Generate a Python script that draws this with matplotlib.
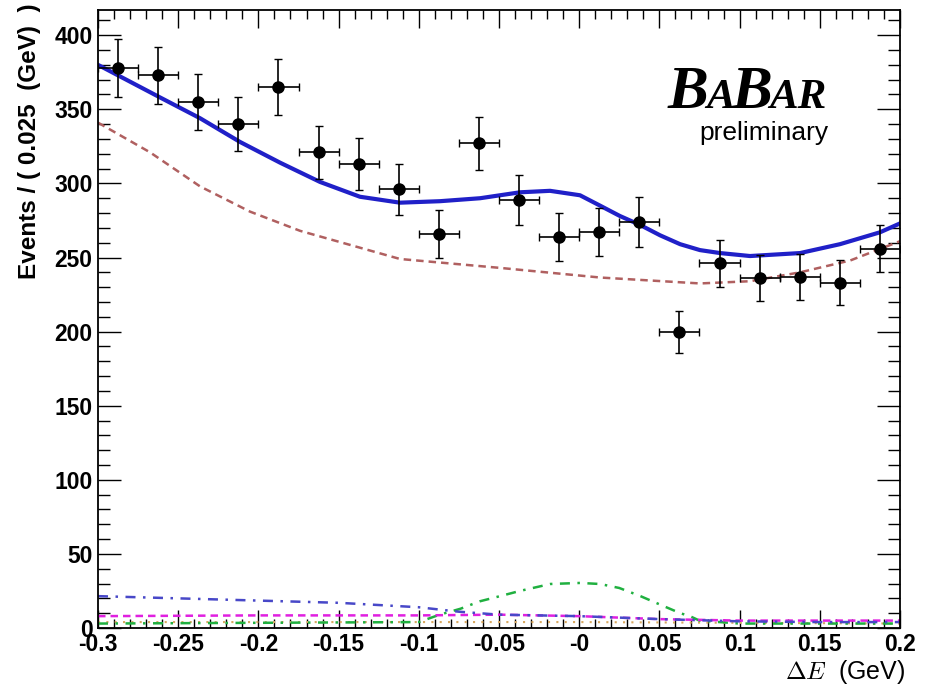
import numpy as np
import matplotlib
matplotlib.use("Agg")
import matplotlib.pyplot as plt
from matplotlib.ticker import MultipleLocator

# data points (bin centres, bin width 0.025 GeV)
x_data = [-0.2875, -0.2625, -0.2375, -0.2125, -0.1875, -0.1625, -0.1375, -0.1125, -0.0875, -0.0625,
          -0.0375, -0.0125, 0.0125, 0.0375, 0.0625, 0.0875, 0.1125, 0.1375, 0.1625, 0.1875]
y_data = [378, 373, 355, 340, 365, 321, 313, 296, 266, 327,
          289, 264, 267, 274, 200, 246, 236, 237, 233, 256]
y_err = [19.4, 19.3, 18.8, 18.4, 19.1, 17.9, 17.7, 17.2, 16.3, 18.1,
         17.0, 16.2, 16.3, 16.6, 14.1, 15.7, 15.4, 15.4, 15.3, 16.0]
x_err = 0.0125

# total fit
x_tot = [-0.3, -0.2613, -0.2364, -0.2115, -0.1865, -0.1616, -0.1367, -0.1117, -0.0868, -0.0618,
         -0.0369, -0.0182, 0.0005, 0.013, 0.0254, 0.0379, 0.0504, 0.0629, 0.0753, 0.0878,
         0.1065, 0.1377, 0.1626, 0.1875, 0.2]
y_tot = [380, 358, 344, 328, 314, 301, 291, 287, 288, 290,
         294, 295, 292, 285, 278, 272, 265, 259, 255, 253,
         251, 253, 259, 267, 273]

# continuum background
x_bkg = [-0.3, -0.2676, -0.2364, -0.2053, -0.174, -0.1117, -0.0494, 0.013, 0.0753, 0.1065, 0.1377, 0.169, 0.2]
y_bkg = [341, 321, 298, 281, 268, 249, 243, 236.5, 232.5, 234, 240, 248, 261]

# small components
x_bb = [-0.3, -0.25, -0.2, -0.15, -0.1, -0.075, -0.05, 0.0, 0.05, 0.1, 0.15, 0.2]
y_bb = [21.5, 20, 18.5, 17, 14, 11, 9, 8, 6, 4.5, 4, 4]
x_mag = [-0.3, -0.2, -0.1, -0.05, 0.0, 0.05, 0.1, 0.2]
y_mag = [8, 8.5, 8.5, 9, 8, 6, 5, 5]
x_sig = [-0.3, -0.1, -0.087, -0.074, -0.062, -0.049, -0.037, -0.018, 0.0005, 0.013, 0.025,
         0.038, 0.05, 0.063, 0.069, 0.075, 0.1, 0.2]
y_sig = [3, 4, 9, 13, 18, 21.6, 25, 29.7, 30.4, 29.7, 27,
         21.6, 16, 10, 8, 5, 3, 3]
x_tan = [-0.3, 0.0, 0.2]
y_tan = [4, 4, 3]

fig = plt.figure(figsize=(9.37, 6.96), dpi=100)
ax = fig.add_axes([0.1046, 0.0977, 0.8559, 0.8879])

ax.plot(x_tan, y_tan, color='#d8a860', lw=1.5, ls=(0, (1, 3)))
ax.plot(x_sig, y_sig, color='#20b040', lw=1.8, ls=(0, (4, 3, 1, 3)))
ax.plot(x_mag, y_mag, color='#e020e0', lw=1.8, ls=(0, (3, 2)))
ax.plot(x_bb, y_bb, color='#4848c8', lw=1.8, ls=(0, (4, 3, 1, 3)))
ax.plot(x_bkg, y_bkg, color='#b06060', lw=1.8, ls=(0, (3, 2)))
ax.plot(x_tot, y_tot, color='#2020c8', lw=3)
ax.errorbar(x_data, y_data, xerr=x_err, yerr=y_err, fmt='o', color='black',
            ms=8, elinewidth=1.2, capsize=3, capthick=1.0, zorder=5)

ax.set_xlim(-0.3, 0.2)
ax.set_ylim(0, 417)
ax.xaxis.set_major_locator(MultipleLocator(0.05))
ax.xaxis.set_minor_locator(MultipleLocator(0.01))
ax.yaxis.set_major_locator(MultipleLocator(50))
ax.yaxis.set_minor_locator(MultipleLocator(10))
ax.tick_params(axis='both', which='both', direction='in', top=True, right=True, width=1)
ax.tick_params(axis='x', which='major', length=13)
ax.tick_params(axis='x', which='minor', length=6.5)
ax.tick_params(axis='y', which='major', length=16.5)
ax.tick_params(axis='y', which='minor', length=8.5)
ax.tick_params(axis='both', labelsize=16.5)
ax.tick_params(axis='y', pad=4)
ax.set_xticks(np.arange(-0.3, 0.21, 0.05))
ax.set_xticklabels(['-0.3', '-0.25', '-0.2', '-0.15', '-0.1', '-0.05', '-0', '0.05', '0.1', '0.15', '0.2'])
for lbl in ax.get_xticklabels() + ax.get_yticklabels():
    lbl.set_fontfamily('Liberation Sans')
    lbl.set_fontweight('bold')
for s in ax.spines.values():
    s.set_linewidth(1.3)

fig.text(0.032, 0.995, 'Events / ( 0.025  (GeV)  )', rotation=90, ha='center', va='top',
         fontsize=17.5, fontweight='bold', family='Liberation Sans')
plt.rcParams['mathtext.fontset'] = 'cm'
fig.text(0.966, 0.015, r'$\Delta E$  (GeV)', ha='right', va='bottom', fontsize=18,
         family='Liberation Sans')

# BaBar logo
r = fig.canvas.get_renderer()
xpos = 668 / 937
ybase = 1 - 108 / 696
for s, size in [('B', 44), ('A', 31), ('B', 44), ('AR', 31)]:
    t = fig.text(xpos, ybase, s, fontsize=size, family='Liberation Serif',
                 fontweight='bold', style='italic', va='baseline')
    xpos += t.get_window_extent(r).width / fig.bbox.width - 0.003
fig.text(828 / 937, 1 - 140 / 696, 'preliminary', ha='right', va='baseline',
         fontsize=19, family='Liberation Sans')

fig.savefig('out.png', dpi=100)
